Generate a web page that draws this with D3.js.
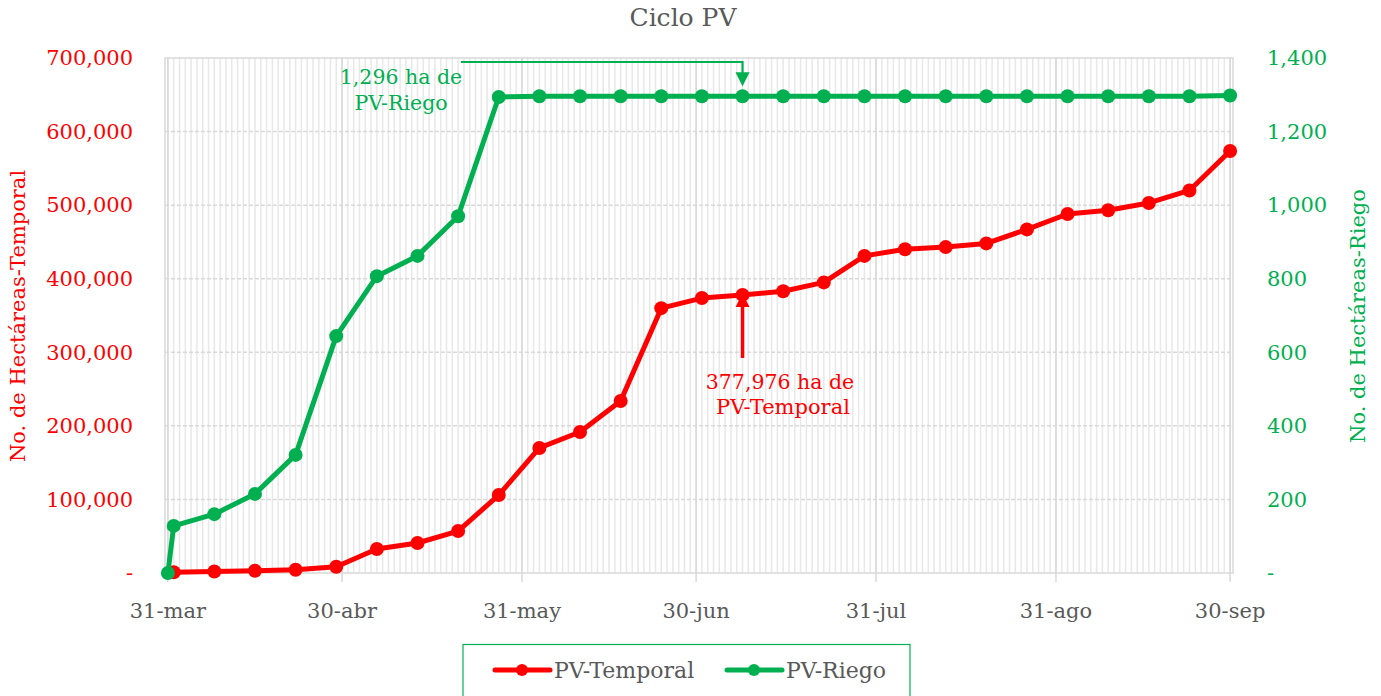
<!DOCTYPE html>
<html>
<head>
<meta charset="utf-8">
<script src="https://cdn.jsdelivr.net/npm/d3@7"></script>
<style>
  body { margin: 0; background: #fff; }
  svg { font-family: "DejaVu Serif", serif; }
</style>
</head>
<body>
<svg width="1381" height="696"></svg>
<script>
// fechas de corte (semanal)
var fechas = ["2019-03-31","2019-04-01","2019-04-08","2019-04-15","2019-04-22","2019-04-29",
  "2019-05-06","2019-05-13","2019-05-20","2019-05-27","2019-06-03","2019-06-10","2019-06-17",
  "2019-06-24","2019-07-01","2019-07-08","2019-07-15","2019-07-22","2019-07-29","2019-08-05",
  "2019-08-12","2019-08-19","2019-08-26","2019-09-02","2019-09-09","2019-09-16","2019-09-23","2019-09-30"];
var temporal = [null, 1000, 2000, 3000, 4500, 8500, 32600, 40800, 57000, 106000, 170000, 191600, 233700,
  360000, 373700, 377976, 383000, 395000, 431000, 440000, 443000, 448000, 467000, 488000, 493000,
  503000, 520000, 573500];
var riego = [0, 128, 160, 215, 321, 644, 807, 862, 970, 1294, 1296, 1296, 1296, 1296, 1296, 1296,
  1296, 1296, 1296, 1296, 1296, 1296, 1296, 1296, 1296, 1296, 1296, 1298];
var tickFechas = ["2019-03-31","2019-04-30","2019-05-31","2019-06-30","2019-07-31","2019-08-31","2019-09-30"];
var tickLabels = ["31-mar","30-abr","31-may","30-jun","31-jul","31-ago","30-sep"];
var leftTicks = [0, 100000, 200000, 300000, 400000, 500000, 600000, 700000];
var rightTicks = [0, 200, 400, 600, 800, 1000, 1200, 1400];

var ROJO = "#ff0000", VERDE = "#00b050", GRIS = "#595959";
var parse = d3.timeParse("%Y-%m-%d");

var svg = d3.select("svg");
var mLeft = 165, mRight = 1233, mTop = 58, mBottom = 573;

var x = d3.scaleTime()
    .domain([d3.timeHour.offset(parse("2019-03-31"), -12), d3.timeHour.offset(parse("2019-09-30"), 12)])
    .range([mLeft, mRight]);
var yL = d3.scaleLinear().domain([0, 700000]).range([mBottom, mTop]);
var yR = d3.scaleLinear().domain([0, 1400]).range([mBottom, mTop]);

// rejilla diaria
var dias = d3.timeDay.range(parse("2019-03-31"), d3.timeDay.offset(parse("2019-09-30"), 1));
svg.append("g").selectAll("line").data(dias).enter().append("line")
    .attr("x1", function(d){ return x(d); }).attr("x2", function(d){ return x(d); })
    .attr("y1", mTop).attr("y2", mBottom)
    .attr("stroke", "#e8e8e8").attr("stroke-width", 1.5);

// rejilla horizontal
svg.append("g").selectAll("line").data(leftTicks.slice(1, -1)).enter().append("line")
    .attr("x1", mLeft).attr("x2", mRight)
    .attr("y1", function(d){ return yL(d); }).attr("y2", function(d){ return yL(d); })
    .attr("stroke", "#d9d9d9").attr("stroke-width", 1.5).attr("stroke-dasharray", "4,2");

// rejilla mensual
svg.append("g").selectAll("line").data(tickFechas).enter().append("line")
    .attr("x1", function(d){ return x(parse(d)); }).attr("x2", function(d){ return x(parse(d)); })
    .attr("y1", mTop).attr("y2", mBottom + 9)
    .attr("stroke", "#d9d9d9").attr("stroke-width", 1.5);

svg.append("rect").attr("x", mLeft).attr("y", mTop).attr("width", mRight - mLeft).attr("height", mBottom - mTop)
    .attr("fill", "none").attr("stroke", "#d9d9d9").attr("stroke-width", 1.5);

// ejes
var fmt = function(d){ return d === 0 ? "-" : d3.format(",")(d); };
svg.append("g").selectAll("text").data(leftTicks).enter().append("text")
    .attr("x", 133).attr("y", function(d){ return yL(d); }).attr("dy", "0.35em")
    .attr("text-anchor", "end").attr("fill", ROJO).style("font-size", "21px")
    .text(fmt);
svg.append("g").selectAll("text").data(rightTicks).enter().append("text")
    .attr("x", 1267).attr("y", function(d){ return yR(d); }).attr("dy", "0.35em")
    .attr("text-anchor", "start").attr("fill", VERDE).style("font-size", "21px")
    .text(fmt);
svg.append("g").selectAll("text").data(tickFechas).enter().append("text")
    .attr("x", function(d){ return x(parse(d)); }).attr("y", 611)
    .attr("dy", "0.35em").attr("text-anchor", "middle").attr("fill", GRIS).style("font-size", "21px")
    .text(function(d, i){ return tickLabels[i]; });

svg.append("text").attr("x", 683).attr("y", 17).attr("dy", "0.35em").attr("text-anchor", "middle")
    .attr("fill", GRIS).style("font-size", "25px").text("Ciclo PV");
svg.append("text").attr("transform", "translate(18,316) rotate(-90)").attr("dy", "0.35em")
    .attr("text-anchor", "middle").attr("fill", ROJO).style("font-size", "21px")
    .text("No. de Hectáreas-Temporal");
svg.append("text").attr("transform", "translate(1358,316) rotate(-90)").attr("dy", "0.35em")
    .attr("text-anchor", "middle").attr("fill", VERDE).style("font-size", "21px")
    .text("No. de Hectáreas-Riego");

// series
var datos = fechas.map(function(f, i){ return { fecha: parse(f), t: temporal[i], r: riego[i] }; });
function serie(key, y, color){
  var pts = datos.filter(function(d){ return d[key] != null; });
  svg.append("path").datum(pts)
      .attr("fill", "none").attr("stroke", color).attr("stroke-width", 5).attr("stroke-linejoin", "round")
      .attr("d", d3.line().x(function(d){ return x(d.fecha); }).y(function(d){ return y(d[key]); }));
  svg.append("g").selectAll("circle").data(pts).enter().append("circle")
      .attr("cx", function(d){ return x(d.fecha); }).attr("cy", function(d){ return y(d[key]); })
      .attr("r", 7).attr("fill", color);
}
serie("t", yL, ROJO);
serie("r", yR, VERDE);

// anotaciones
var jul8 = x(parse("2019-07-08"));
var pR = yR(1296), pT = yL(377976);
svg.append("path").attr("d", "M461,62H" + jul8 + "V" + (pR - 22))
    .attr("fill", "none").attr("stroke", VERDE).attr("stroke-width", 2.2);
svg.append("path").attr("d", "M" + (jul8 - 7) + "," + (pR - 24) + "L" + (jul8 + 7) + "," + (pR - 24) + "L" + jul8 + "," + (pR - 10) + "Z")
    .attr("fill", VERDE);
svg.append("text").attr("x", 401).attr("y", 77).attr("dy", "0.35em").attr("text-anchor", "middle")
    .attr("fill", VERDE).style("font-size", "20.5px").text("1,296 ha de");
svg.append("text").attr("x", 401).attr("y", 103).attr("dy", "0.35em").attr("text-anchor", "middle")
    .attr("fill", VERDE).style("font-size", "20.5px").text("PV-Riego");

svg.append("path").attr("d", "M" + jul8 + ",358V" + (pT + 10))
    .attr("fill", "none").attr("stroke", ROJO).attr("stroke-width", 3.5);
svg.append("path").attr("d", "M" + (jul8 - 7) + "," + (pT + 12) + "L" + (jul8 + 7) + "," + (pT + 12) + "L" + jul8 + "," + (pT - 2) + "Z")
    .attr("fill", ROJO);
svg.append("text").attr("x", 780).attr("y", 382).attr("dy", "0.35em").attr("text-anchor", "middle")
    .attr("fill", ROJO).style("font-size", "20.5px").text("377,976 ha de");
svg.append("text").attr("x", 783).attr("y", 407).attr("dy", "0.35em").attr("text-anchor", "middle")
    .attr("fill", ROJO).style("font-size", "21px").text("PV-Temporal");

// leyenda
var ley = svg.append("g");
ley.append("rect").attr("x", 463).attr("y", 644.5).attr("width", 447).attr("height", 60)
    .attr("fill", "#fff").attr("stroke", VERDE).attr("stroke-width", 1.2);
var items = [{ nombre: "PV-Temporal", color: ROJO, x0: 495 }, { nombre: "PV-Riego", color: VERDE, x0: 727 }];
items.forEach(function(it){
  ley.append("line").attr("x1", it.x0).attr("x2", it.x0 + 55).attr("y1", 670).attr("y2", 670)
      .attr("stroke", it.color).attr("stroke-width", 5).attr("stroke-linecap", "round");
  ley.append("circle").attr("cx", it.x0 + 27).attr("cy", 670).attr("r", 6).attr("fill", it.color);
  ley.append("text").attr("x", it.x0 + 59).attr("y", 670).attr("dy", "0.35em")
      .attr("fill", GRIS).style("font-size", "22px").text(it.nombre);
});
</script>
</body>
</html>
